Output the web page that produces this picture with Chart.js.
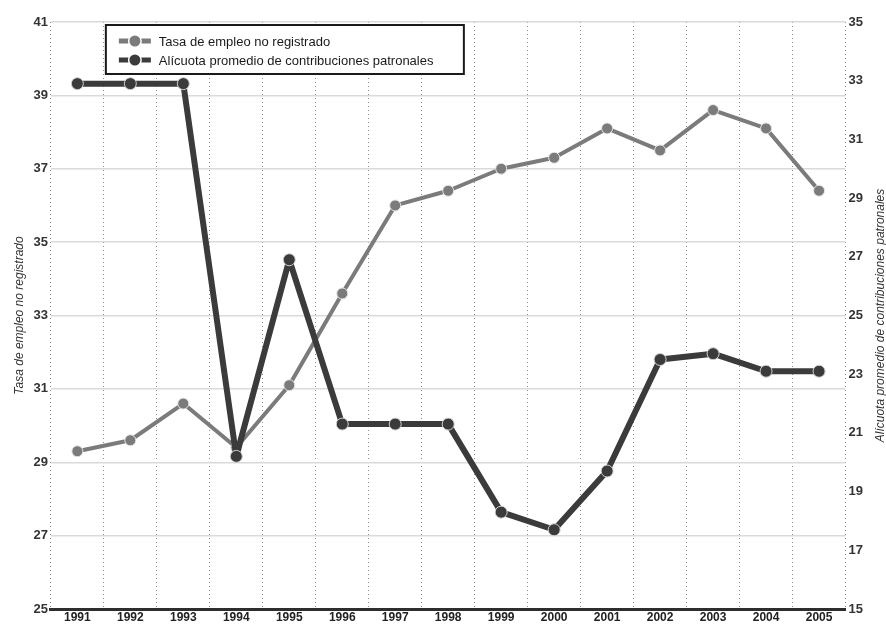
<!DOCTYPE html>
<html lang="es">
<head>
    <meta charset="UTF-8">
    <title>Empleo no registrado y contribuciones patronales</title>
    <script src="https://cdn.jsdelivr.net/npm/chart.js@4"></script>
    <style>
        body { margin: 0; background: #fff; }
        #wrap { width: 886px; height: 626px; }
    </style>
</head>
<body>
<div id="wrap"><canvas id="chart"></canvas></div>
<script>
    // datos
    var years = ['1991', '1992', '1993', '1994', '1995', '1996', '1997', '1998',
                 '1999', '2000', '2001', '2002', '2003', '2004', '2005'];
    var tasaEmpleoNoRegistrado = [29.3, 29.6, 30.6, 29.4, 31.1, 33.6, 36.0, 36.4,
                                  37.0, 37.3, 38.1, 37.5, 38.6, 38.1, 36.4];
    var alicuotaPatronal = [32.9, 32.9, 32.9, 20.2, 26.9, 21.3, 21.3, 21.3,
                            18.3, 17.7, 19.7, 23.5, 23.7, 23.1, 23.1];

    var leftTitle = 'Tasa de empleo no registrado';
    var rightTitle = 'Alícuota promedio de contribuciones patronales';

    var grayColor = '#7b7b7b';
    var darkColor = '#3b3b3b';
    var fontFamily = '"Liberation Sans", Arial, sans-serif';

    // leyenda con recuadro dentro del área del gráfico
    var boxLegend = {
        id: 'boxLegend',
        afterDraw: function(chart) {
            var ctx = chart.ctx;
            var area = chart.chartArea;
            var x = area.left + 55, y = area.top + 3, w = 358, h = 49;
            ctx.save();
            ctx.fillStyle = '#fff';
            ctx.fillRect(x, y, w, h);
            ctx.strokeStyle = '#1a1a1a';
            ctx.lineWidth = 2;
            ctx.strokeRect(x, y, w, h);
            ctx.font = '13px ' + fontFamily;
            ctx.textBaseline = 'middle';
            chart.data.datasets.forEach(function(ds, i) {
                var cy = y + 16 + i * 19;
                var sx = x + 13;
                ctx.strokeStyle = ds.borderColor;
                ctx.lineWidth = 5;
                ctx.beginPath();
                ctx.moveTo(sx, cy);
                ctx.lineTo(sx + 32, cy);
                ctx.stroke();
                ctx.fillStyle = '#fff';
                ctx.beginPath();
                ctx.arc(sx + 16, cy, 7, 0, Math.PI * 2);
                ctx.fill();
                ctx.fillStyle = ds.borderColor;
                ctx.beginPath();
                ctx.arc(sx + 16, cy, 5.5, 0, Math.PI * 2);
                ctx.fill();
                ctx.fillStyle = '#1a1a1a';
                ctx.fillText(ds.label, x + 53, cy + 1);
            });

            // título del eje derecho, de abajo hacia arriba
            ctx.font = 'italic 12px ' + fontFamily;
            ctx.fillStyle = '#333';
            ctx.textAlign = 'center';
            ctx.translate(chart.width - 5, (area.top + area.bottom) / 2);
            ctx.rotate(-Math.PI / 2);
            ctx.fillText(rightTitle, 0, 0);
            ctx.restore();
        }
    };

    var ctx = document.getElementById('chart').getContext('2d');
    var chart = new Chart(ctx, {
        type: 'line',
        data: {
            labels: years,
            datasets: [{
                label: 'Tasa de empleo no registrado',
                data: tasaEmpleoNoRegistrado,
                yAxisID: 'y',
                borderColor: grayColor,
                backgroundColor: grayColor,
                borderWidth: 4,
                borderJoinStyle: 'round',
                pointRadius: 5.5,
                pointBackgroundColor: grayColor,
                pointBorderColor: '#e6e6e6',
                pointBorderWidth: 1,
                tension: 0,
                order: 2
            }, {
                label: 'Alícuota promedio de contribuciones patronales',
                data: alicuotaPatronal,
                yAxisID: 'y1',
                borderColor: darkColor,
                backgroundColor: darkColor,
                borderWidth: 6,
                borderJoinStyle: 'round',
                pointRadius: 6,
                pointBackgroundColor: darkColor,
                pointBorderColor: '#d0d0d0',
                pointBorderWidth: 1,
                tension: 0,
                order: 1
            }]
        },
        options: {
            responsive: true,
            maintainAspectRatio: false,
            animation: false,
            layout: {
                padding: { left: 8, right: 20, top: 22, bottom: 0 }
            },
            plugins: {
                legend: { display: false },
                tooltip: { enabled: false }
            },
            scales: {
                x: {
                    type: 'category',
                    offset: true,
                    grid: {
                        offset: true,
                        color: '#8c8c8c',
                        lineWidth: 1,
                        drawTicks: false
                    },
                    border: {
                        display: true,
                        color: '#2e2e2e',
                        width: 3,
                        dash: [1, 3]
                    },
                    ticks: {
                        color: '#222',
                        padding: 2.5,
                        font: { family: fontFamily, size: 12, weight: 'bold', lineHeight: 1 }
                    }
                },
                y: {
                    position: 'left',
                    min: 25,
                    max: 41,
                    grid: {
                        color: '#dadada',
                        lineWidth: 1.5,
                        drawTicks: false
                    },
                    border: { display: false },
                    ticks: {
                        stepSize: 2,
                        color: '#333',
                        padding: 3,
                        font: { family: fontFamily, size: 13, weight: 'bold' }
                    },
                    title: {
                        display: true,
                        text: leftTitle,
                        color: '#333',
                        font: { family: fontFamily, size: 12, style: 'italic' }
                    }
                },
                y1: {
                    position: 'right',
                    min: 15,
                    max: 35,
                    grid: { drawOnChartArea: false, drawTicks: false },
                    border: { display: false },
                    ticks: {
                        stepSize: 2,
                        color: '#333',
                        padding: 3,
                        font: { family: fontFamily, size: 13, weight: 'bold' }
                    }
                }
            }
        },
        plugins: [boxLegend]
    });
</script>
</body>
</html>
